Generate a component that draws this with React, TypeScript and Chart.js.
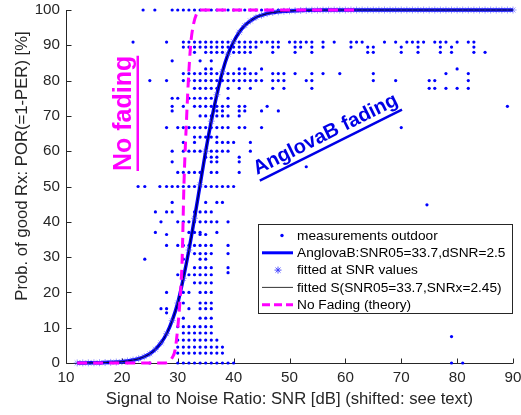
import React, { useEffect, useRef } from 'react';
import { Chart, registerables } from 'chart.js';

Chart.register(...registerables);

const FONT = "'Liberation Sans', Arial, Helvetica, sans-serif";
const AXIS_COLOR = '#262626';

// axis ticks
const xTickValues = [10, 20, 30, 40, 50, 60, 70, 80, 90];
const yTickValues = [0, 10, 20, 30, 40, 50, 60, 70, 80, 90, 100];

// fitted S-curve (AnglovaB) read at SNR grid values
const snrGrid = [12, 13, 14, 15, 16, 17, 18, 19, 20, 21, 22, 23, 24, 25, 26, 27, 28, 29, 30, 31, 32, 33, 34, 35, 36, 37, 38, 39, 40, 41, 42, 43, 44, 45, 46, 47, 48, 49, 50, 51, 52, 53, 54, 55, 56, 57, 58, 59, 60, 61, 62, 63, 64, 65, 66, 67, 68, 69, 70, 71, 72, 73, 74, 75, 76, 77, 78, 79, 80, 81, 82, 83, 84, 85, 86, 87, 88, 89, 90];
const fitPOR = [0.02, 0.03, 0.04, 0.06, 0.08, 0.12, 0.18, 0.26, 0.38, 0.56, 0.83, 1.2, 1.8, 2.6, 3.9, 5.7, 8.3, 12, 17, 24, 32, 41, 50.5, 60, 68.5, 76, 82.5, 87.5, 91, 93.7, 95.6, 96.9, 97.9, 98.5, 99, 99.3, 99.5, 99.65, 99.75, 99.82, 99.87, 99.91, 99.94, 99.96, 99.97, 99.98, 99.99, 100, 100, 100, 100, 100, 100, 100, 100, 100, 100, 100, 100, 100, 100, 100, 100, 100, 100, 100, 100, 100, 100, 100, 100, 100, 100, 100, 100, 100, 100, 100, 100];

// no fading theory curve
const noFadeSNR = [12, 27.5, 28.3, 29, 29.5, 30, 30.5, 30.8, 31.1, 31.6, 31.9, 32.3, 32.7, 33.4, 34.3, 62];
const noFadePOR = [0, 0, 0.3, 1.5, 3.5, 10, 20, 30, 50, 70, 80, 90, 95, 99, 100, 100];

// outdoor measurements: [POR level, SNR values]
const measurementRows: [number, number[]][] = [
  [100, [23.8, 25.9, 29, 30, 31, 32, 33, 34, 35, 36, 37, 38, 39, 40, 41, 42, 43, 44, 45, 46, 47, 48, 49, 50, 51, 52, 53, 54, 55, 56, 57, 58, 59, 60, 61, 62, 63, 64, 65, 66, 67, 68, 69, 70, 71, 72, 73, 74, 75, 76, 77, 78, 79, 80, 81, 82, 83, 84, 85, 86, 87, 88]],
  [90.9, [22, 28, 31, 32, 33, 34, 35, 36, 37, 38, 39, 40, 41, 42, 43, 44, 45, 46, 47, 48, 50, 51, 52, 53, 54, 56, 58, 61, 62, 63, 67, 69, 71, 72, 73, 74, 76, 77, 78, 80, 82, 83]],
  [89.5, [31, 32, 33, 34, 35, 36, 37, 38, 39, 40, 41, 42, 43, 44, 47, 48, 51, 52, 54, 56, 61, 64, 65, 70, 73, 77, 79, 83]],
  [88, [33, 35, 36, 37, 38, 40, 41, 42, 43, 47, 51, 54, 64, 65, 70, 73, 77, 79, 83, 85]],
  [85.6, [29, 34, 36]],
  [83.3, [35, 36, 41, 42, 45, 80]],
  [82, [31, 32, 33, 34, 35, 36, 37, 38, 39, 40, 41, 42, 43, 44, 47, 48, 49, 51, 54, 56, 59, 65, 78, 82]],
  [80, [25, 28, 31, 32, 33, 34, 35, 36, 37, 38, 39, 40, 41, 42, 43, 44, 45, 47, 48, 49, 53, 54, 65, 69, 75, 76, 82]],
  [77.8, [33, 34, 35, 36, 37, 39, 41, 43, 47, 49, 54, 75, 76, 78, 80, 82]],
  [75, [29, 30, 32, 33, 34, 35, 36, 39]],
  [72.7, [29, 31, 33, 34, 35, 36, 37, 38, 39, 41, 42, 46, 89]],
  [71.4, [29, 37, 38, 41, 42, 45, 48]],
  [70, [34, 35, 36, 37, 38, 39, 41]],
  [66.7, [28, 30, 31, 32, 33, 34, 35, 36, 37, 38, 39, 41, 42, 45, 70]],
  [64, [33, 34, 35, 36, 37]],
  [62.5, [31, 33, 37, 38, 39, 40, 43]],
  [60, [29, 31, 32, 33, 34, 35, 36, 37, 38, 39, 43]],
  [58.3, [35, 36, 37, 41]],
  [57, [29, 36, 37, 41]],
  [55.6, [53]],
  [54, [30, 31, 32, 33, 34, 36, 37, 41]],
  [50, [22.9, 24.1, 26.8, 28, 29, 30, 31, 32, 33, 34, 35, 36, 37, 38, 39, 40]],
  [45.5, [29, 35, 37, 38]],
  [44.8, [74.6]],
  [42.8, [26, 28, 29, 33, 34, 35, 36]],
  [40, [27, 30, 31, 32, 33, 34, 35, 36, 37, 39]],
  [37, [26, 32, 33, 34, 37]],
  [36.4, [28, 34, 35]],
  [33.3, [28, 30, 31, 32, 33, 34, 35, 36, 39]],
  [31, [33, 34, 35, 36, 39]],
  [29.4, [24.1, 31, 34, 35]],
  [27, [33, 34, 35, 36, 39]],
  [25.6, [39]],
  [25, [30, 31, 32, 33, 34, 35, 36]],
  [22.7, [33, 34, 35, 36]],
  [20, [28, 31, 32, 34, 35, 36]],
  [17, [30, 31, 34, 35, 36]],
  [15.4, [27, 28, 32, 34, 35, 36]],
  [14.2, [28]],
  [12.7, [31, 34, 35, 36]],
  [10.3, [30, 31, 32, 33, 34, 35, 36]],
  [8.5, [31, 32, 33, 34, 35, 36]],
  [7.5, [79]],
  [6.5, [30, 31, 32, 33, 34, 35, 36, 37]],
  [4.5, [30, 31, 32, 33, 34, 35, 36, 37, 38]],
  [2.8, [30, 31, 32, 33, 34, 35, 36, 37, 38]],
  [0, [14.3, 16.1, 25, 30, 31, 32, 33, 34, 35, 36, 37, 38, 39, 40, 79, 81]],
];

const legendLabels = [
  'measurements outdoor',
  'AnglovaB:SNR05=33.7,dSNR=2.5',
  'fitted at SNR values',
  'fitted S(SNR05=33.7,SNRx=2.45)',
  'No Fading (theory)',
];

const xTitle = 'Signal to Noise Ratio: SNR [dB] (shifted: see text)';
const yTitle = 'Prob. of good Rx: POR(=1-PER) [%]';
const noFadingText = 'No fading';
const anglovaText = 'AnglovaB fading';

const BLUE = '#0000ff';
const MAGENTA = '#ff00ff';
const STAR_COLOR = 'rgba(70,70,255,0.55)';

function drawAsterisk(ctx: CanvasRenderingContext2D, x: number, y: number, r: number) {
  ctx.beginPath();
  ctx.moveTo(x - r, y); ctx.lineTo(x + r, y);
  ctx.moveTo(x, y - r); ctx.lineTo(x, y + r);
  const d = r * 0.707;
  ctx.moveTo(x - d, y - d); ctx.lineTo(x + d, y + d);
  ctx.moveTo(x - d, y + d); ctx.lineTo(x + d, y - d);
  ctx.stroke();
}

const decorPlugin = {
  id: 'decor',
  beforeDatasetsDraw(chart: any) {
    const { ctx, chartArea: a, scales } = chart;
    ctx.save();
    ctx.strokeStyle = AXIS_COLOR;
    ctx.lineWidth = 1;
    const L = Math.round(a.left) + 0.5;
    const B = Math.round(a.bottom) + 0.5;
    ctx.beginPath();
    ctx.moveTo(L, a.top);
    ctx.lineTo(L, B);
    ctx.lineTo(a.right, B);
    xTickValues.forEach((v) => {
      const px = Math.round(scales.x.getPixelForValue(v)) + 0.5;
      ctx.moveTo(px, B);
      ctx.lineTo(px, B - 5);
    });
    yTickValues.forEach((v) => {
      const py = Math.round(scales.y.getPixelForValue(v)) + 0.5;
      ctx.moveTo(L, py);
      ctx.lineTo(L + 5, py);
    });
    ctx.stroke();
    ctx.restore();
  },
  afterDatasetsDraw(chart: any) {
    const { ctx } = chart;
    ctx.save();
    // Annotation: No fading
    ctx.fillStyle = MAGENTA;
    ctx.font = `bold 25px ${FONT}`;
    ctx.textBaseline = 'alphabetic';
    ctx.textAlign = 'left';
    ctx.save();
    ctx.translate(131, 171);
    ctx.rotate(-Math.PI / 2);
    ctx.fillText(noFadingText, 0, 0);
    let w = ctx.measureText(noFadingText).width;
    ctx.fillRect(0, 5.5, w, 2.5);
    ctx.restore();
    // Annotation: AnglovaB fading
    ctx.fillStyle = '#0000e6';
    ctx.font = `bold 20px ${FONT}`;
    ctx.save();
    ctx.translate(257, 175);
    ctx.rotate((-26.5 * Math.PI) / 180);
    ctx.fillText(anglovaText, 0, 0);
    w = ctx.measureText(anglovaText).width;
    ctx.fillRect(0, 5, w, 2.5);
    ctx.restore();

    // Legend
    const lx = 258, ly = 224, lw = 254, lh = 89;
    ctx.fillStyle = '#ffffff';
    ctx.fillRect(lx, ly, lw, lh);
    ctx.strokeStyle = AXIS_COLOR;
    ctx.lineWidth = 1;
    ctx.strokeRect(lx + 0.5, ly + 0.5, lw, lh);
    const rowY = (i: number) => ly + 11.5 + i * 17.3;
    const s0 = 262, s1 = 293, sm = 278;
    // row 0: dot
    ctx.fillStyle = BLUE;
    ctx.beginPath();
    ctx.arc(sm + 4, rowY(0), 1.7, 0, Math.PI * 2);
    ctx.fill();
    // row 1: thick blue line
    ctx.strokeStyle = BLUE;
    ctx.lineWidth = 3;
    ctx.beginPath();
    ctx.moveTo(s0, rowY(1)); ctx.lineTo(s1, rowY(1));
    ctx.stroke();
    // row 2: asterisk
    ctx.strokeStyle = 'rgba(50,50,255,0.85)';
    ctx.lineWidth = 1;
    drawAsterisk(ctx, sm, rowY(2), 3.5);
    // row 3: thin black line
    ctx.strokeStyle = '#000000';
    ctx.lineWidth = 0.8;
    ctx.beginPath();
    ctx.moveTo(s0, rowY(3)); ctx.lineTo(s1, rowY(3));
    ctx.stroke();
    // row 4: magenta dashed
    ctx.strokeStyle = MAGENTA;
    ctx.lineWidth = 3;
    ctx.setLineDash([8, 4]);
    ctx.beginPath();
    ctx.moveTo(s0, rowY(4)); ctx.lineTo(s1, rowY(4));
    ctx.stroke();
    ctx.setLineDash([]);
    ctx.fillStyle = '#000000';
    ctx.font = `13.7px ${FONT}`;
    ctx.textBaseline = 'middle';
    legendLabels.forEach((t, i) => ctx.fillText(t, 297, rowY(i) + 0.5));
    ctx.restore();
  },
  afterDraw(chart: any) {
    const { ctx, chartArea: a } = chart;
    ctx.save();
    ctx.fillStyle = AXIS_COLOR;
    ctx.font = `16.7px ${FONT}`;
    ctx.textAlign = 'center';
    ctx.textBaseline = 'alphabetic';
    ctx.fillText(xTitle, (a.left + a.right) / 2, 404);
    ctx.translate(27, 166);
    ctx.rotate(-Math.PI / 2);
    ctx.fillText(yTitle, 0, 0);
    ctx.restore();
  },
};

export default function App() {
  const ref = useRef<HTMLCanvasElement>(null);
  useEffect(() => {
    const measurements = measurementRows.flatMap(([y, xs]) => xs.map((x) => ({ x, y })));
    const fitPoints = snrGrid.map((x, i) => ({ x, y: fitPOR[i] }));
    const noFadePoints = noFadeSNR.map((x, i) => ({ x, y: noFadePOR[i] }));
    const chart = new Chart(ref.current!, {
      type: 'scatter',
      data: {
        datasets: [
          {
            label: legendLabels[4],
            data: noFadePoints,
            showLine: true,
            borderColor: MAGENTA,
            borderWidth: 3,
            borderDash: [10, 6],
            pointRadius: 0,
            cubicInterpolationMode: 'monotone',
            clip: false,
            order: 0,
          } as any,
          {
            label: legendLabels[3],
            data: fitPoints,
            showLine: true,
            borderColor: '#000000',
            borderWidth: 0.8,
            pointRadius: 0,
            cubicInterpolationMode: 'monotone',
            clip: false,
            order: 1,
          } as any,
          {
            label: legendLabels[2],
            data: fitPoints,
            showLine: false,
            pointStyle: 'star',
            pointRadius: 3.5,
            borderColor: STAR_COLOR,
            backgroundColor: 'rgba(0,0,0,0)',
            borderWidth: 1,
            clip: false,
            order: 2,
          } as any,
          {
            label: legendLabels[1],
            data: fitPoints,
            showLine: true,
            borderColor: BLUE,
            borderWidth: 3.5,
            pointRadius: 0,
            cubicInterpolationMode: 'monotone',
            clip: false,
            order: 3,
          } as any,
          {
            label: legendLabels[0],
            data: measurements,
            showLine: false,
            pointRadius: 1.6,
            borderWidth: 0,
            backgroundColor: BLUE,
            clip: false,
            order: 4,
          } as any,
        ],
      },
      options: {
        responsive: false,
        animation: false,
        devicePixelRatio: 1,
        events: [],
        layout: { padding: { top: 10, right: 8, left: 0, bottom: 0 } },
        plugins: { legend: { display: false }, tooltip: { enabled: false } },
        scales: {
          x: {
            type: 'linear',
            min: 10,
            max: 90,
            afterBuildTicks: (s: any) => { s.ticks = xTickValues.map((v) => ({ value: v })); },
            afterFit: (s: any) => { s.height = 52; s.paddingLeft = 0; s.paddingRight = 0; },
            grid: { display: false, drawTicks: false },
            border: { display: false },
            ticks: { color: AXIS_COLOR, font: { family: FONT, size: 15.2 }, padding: 6, maxRotation: 0 },
          },
          y: {
            type: 'linear',
            min: 0,
            max: 100,
            afterBuildTicks: (s: any) => { s.ticks = yTickValues.map((v) => ({ value: v })); },
            afterFit: (s: any) => { s.width = 66; s.paddingTop = 0; s.paddingBottom = 0; },
            grid: { display: false, drawTicks: false },
            border: { display: false },
            ticks: { color: AXIS_COLOR, font: { family: FONT, size: 15.2 }, padding: 6 },
          },
        },
      },
      plugins: [decorPlugin],
    } as any);
    return () => chart.destroy();
  }, []);
  return (
    <div style={{ position: 'absolute', left: 0, top: 0, width: 521, height: 415, background: '#fff' }}>
      <canvas ref={ref} width={521} height={415} style={{ display: 'block' }} />
    </div>
  );
}
